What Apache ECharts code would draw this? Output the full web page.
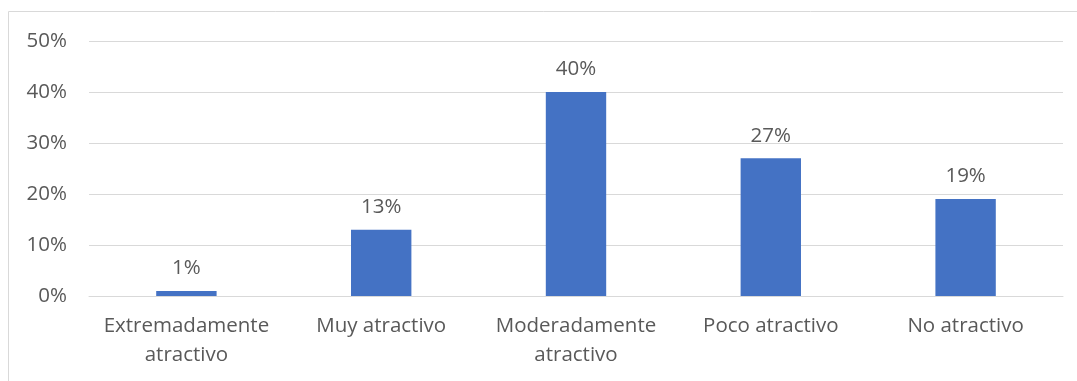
<!DOCTYPE html>
<html>
<head>
<meta charset="utf-8">
<script src="https://cdn.jsdelivr.net/npm/echarts@6/dist/echarts.min.js"></script>
<style>
  html, body { margin: 0; padding: 0; background: #fff; }
  #chart { width: 1077px; height: 381px; }
</style>
</head>
<body>
<div id="chart"></div>
<script>
// Categories and percentages for the attractiveness survey
const categories = ['Extremadamente\natractivo', 'Muy atractivo', 'Moderadamente\natractivo', 'Poco atractivo', 'No atractivo'];
const values = [1, 13, 40, 27, 19];
const yTicks = { min: 0, max: 50, interval: 10 };

const chart = echarts.init(document.getElementById('chart'));
const textColor = '#595959';
const fontFamily = '"Open Sans", sans-serif';
const fontSize = 20.5;

chart.setOption({
  animation: false,
  textStyle: { fontFamily: fontFamily },
  graphic: [{
    type: 'rect',
    shape: { x: 8.5, y: 11.5, width: 1200, height: 500 },
    style: { fill: 'none', stroke: '#d9d9d9', lineWidth: 1 },
    silent: true
  }],
  grid: { left: 89, right: 14, top: 41, bottom: 85 },
  xAxis: {
    type: 'category',
    data: categories,
    axisLine: { show: true, lineStyle: { color: '#d9d9d9', width: 1 } },
    axisTick: { show: false },
    axisLabel: {
      color: textColor, fontSize: fontSize, fontFamily: fontFamily,
      lineHeight: 29, margin: 16, interval: 0
    }
  },
  yAxis: {
    type: 'value',
    min: yTicks.min, max: yTicks.max, interval: yTicks.interval,
    axisLine: { show: false },
    axisTick: { show: false },
    splitLine: { lineStyle: { color: '#d9d9d9', width: 1 } },
    axisLabel: {
      color: textColor, fontSize: fontSize, fontFamily: fontFamily,
      margin: 22, formatter: v => v + '%'
    }
  },
  series: [{
    type: 'bar',
    data: values,
    barWidth: '31%',
    itemStyle: { color: '#4472C4' },
    label: {
      show: true, position: 'top', distance: 12,
      color: textColor, fontSize: fontSize, fontFamily: fontFamily,
      formatter: p => p.value + '%'
    }
  }]
});
</script>
</body>
</html>
